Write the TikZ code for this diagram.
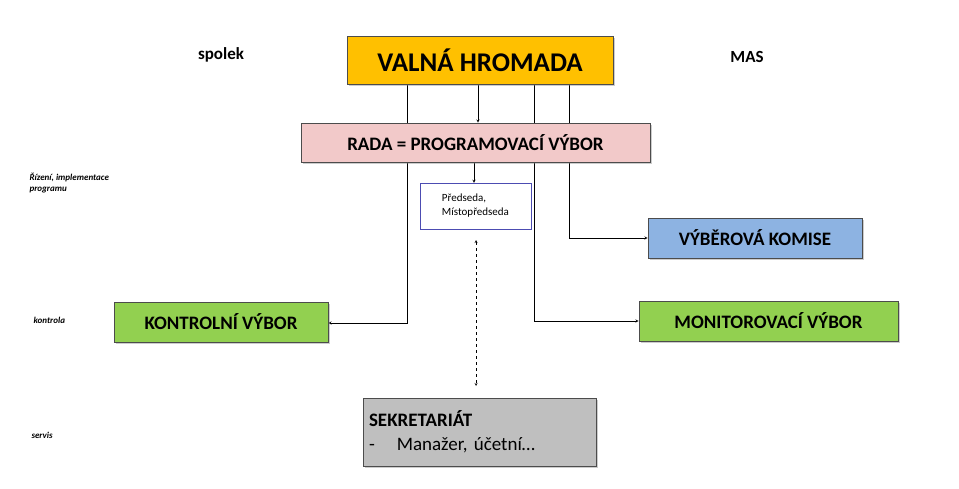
\documentclass[tikz,border=0pt]{standalone}
\usepackage{fontspec}
\setmainfont{Carlito}
\usetikzlibrary{positioning,backgrounds,shadows}
\definecolor{gold}{HTML}{FFC000}
\definecolor{pinkbox}{HTML}{F2C9C9}
\definecolor{bluebox}{HTML}{8DB3E2}
\definecolor{greenbox}{HTML}{92D050}
\definecolor{graybox}{HTML}{BFBFBF}
\begin{document}
\begin{tikzpicture}[
    x=1pt,y=-1pt,
    box/.style={draw=black!70,line width=0.8pt,inner sep=0pt,font=\bfseries,
        drop shadow={shadow xshift=2pt,shadow yshift=-2pt,opacity=0.4}},
    side/.style={font=\bfseries\itshape\fontsize{9}{11}\selectfont,align=left,anchor=west},
    >=stealth
]
    \useasboundingbox (0,0) rectangle (959,488);
    % Boxes
    \node[box,fill=gold,minimum width=266pt,minimum height=48pt,font=\bfseries\fontsize{27}{30}\selectfont] (vh) at (480,60) {VALNÁ HROMADA};
    \node[box,fill=pinkbox,minimum width=349pt,minimum height=39pt,font=\bfseries\fontsize{19}{22}\selectfont] (rada) at (475.5,142.5) {RADA = PROGRAMOVACÍ VÝBOR};
    \node[draw=blue!40!gray,fill=white,minimum width=111pt,minimum height=46pt,align=left,font=\fontsize{11}{14}\selectfont] (pred) at (475.5,206) {Předseda,\\Místopředseda};
    \node[box,fill=bluebox,minimum width=214pt,minimum height=40pt,font=\bfseries\fontsize{19}{22}\selectfont] (komise) at (755,238) {VÝBĚROVÁ KOMISE};
    \node[box,fill=greenbox,minimum width=214pt,minimum height=40pt,font=\bfseries\fontsize{19}{22}\selectfont] (kv) at (221,322) {KONTROLNÍ VÝBOR};
    \node[box,fill=greenbox,minimum width=259pt,minimum height=40pt,font=\bfseries\fontsize{19}{22}\selectfont] (mv) at (768.5,321) {MONITOROVACÍ VÝBOR};
    \node[box,fill=graybox,minimum width=233pt,minimum height=68pt,align=left,text width=221pt,font=\fontsize{19}{24}\selectfont] (sekr) at (479.5,432) {\textbf{SEKRETARIÁT}\\-\hspace{22pt}Manažer, účetní…};
    % Side labels
    \node[font=\bfseries\fontsize{17}{20}\selectfont] (spolek) at (221,55) {spolek};
    \node[font=\bfseries\fontsize{17}{20}\selectfont] (mas) at (747,57) {MAS};
    \node[side] (rizeni) at (26,183) {Řízení, implementace\\programu};
    \node[side] (kontrola) at (30,320) {kontrola};
    \node[side] (servis) at (28,435) {servis};
    \coordinate (d1) at (476,240);
    \coordinate (d2) at (476,386);
    % Connectors
    \begin{pgfonlayer}{background}
    \draw[->] (vh.south -| 407,0) |- (kv.east |- 0,323);
    \draw[->] (vh.south -| 478,0) -- (rada.north -| 478,0);
    \draw[->] (vh.south -| 534,0) |- (mv.west |- 0,321);
    \draw[->] (vh.south -| 569,0) |- (komise.west |- 0,238);
    \draw[->] (rada.south -| 474,0) -- (pred.north -| 474,0);
    \draw[<->,dashed] (d1) -- (d2);
    \end{pgfonlayer}
\end{tikzpicture}
\end{document}
